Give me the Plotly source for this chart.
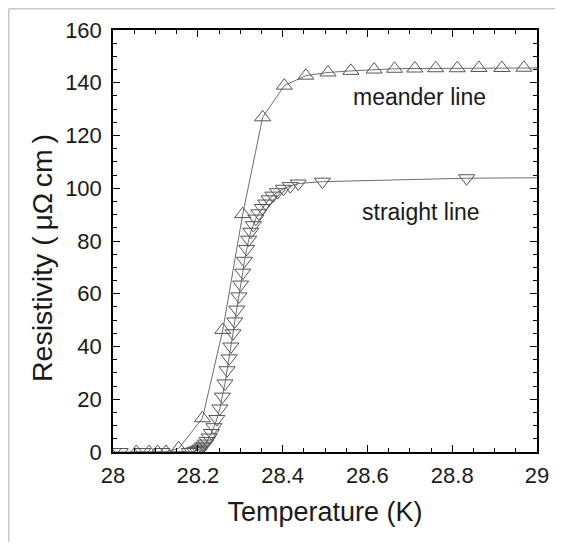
import plotly.graph_objects as go

# Meander line (up triangles)
meander_T = [28.055, 28.085, 28.105, 28.125, 28.155, 28.211, 28.259, 28.306, 28.353,
             28.404, 28.455, 28.507, 28.561, 28.616, 28.664, 28.712, 28.761, 28.812,
             28.863, 28.917, 28.969, 29.3]
meander_R = [0, 0, 0, 0, 1.4, 12.8, 46.3, 90.2, 126.9,
             138.9, 142.7, 143.9, 144.5, 145.0, 145.3, 145.4, 145.5, 145.5,
             145.6, 145.6, 145.7, 145.8]

# Straight line (down triangles)
straight_T = [28.0, 28.017, 28.07, 28.115, 28.18, 28.192, 28.197, 28.202, 28.206, 28.21,
              28.214, 28.218, 28.222, 28.227, 28.232, 28.238, 28.245, 28.252, 28.258,
              28.264, 28.269, 28.274, 28.278, 28.283, 28.287, 28.292, 28.297, 28.301,
              28.306, 28.310, 28.315, 28.32, 28.325, 28.331, 28.337, 28.344, 28.352,
              28.36, 28.368, 28.377, 28.388, 28.402, 28.418, 28.437, 28.494, 28.834, 29.3]
straight_R = [0, 0, 0, 0, 0, 0.3, 0.6, 0.9, 1.3, 1.8,
              2.4, 3.2, 4.2, 5.5, 7.2, 9.4, 12.5, 16.5, 21,
              26, 31, 35.5, 40, 45, 49.5, 54, 59, 63.5,
              68, 72.5, 77, 80.5, 83.5, 86, 88.5, 90.5, 92.5,
              94.2, 95.8, 97.2, 98.5, 99.8, 100.8, 101.8, 102.5, 103.8, 104.3]

x_ticks = [28, 28.2, 28.4, 28.6, 28.8, 29]
x_tick_labels = ["28", "28.2", "28.4", "28.6", "28.8", "29"]
y_ticks = [0, 20, 40, 60, 80, 100, 120, 140, 160]

FONT = "Liberation Sans, Arial, sans-serif"
TXT = "#1a1a1a"
line_col = "#6e6e6e"
mk_line = "#555555"

fig = go.Figure()
fig.add_trace(go.Scatter(
    x=straight_T, y=straight_R, mode="lines+markers",
    line=dict(color=line_col, width=1),
    marker=dict(symbol="triangle-down-open", size=14, color=mk_line, line=dict(width=1)),
    showlegend=False))
fig.add_trace(go.Scatter(
    x=meander_T, y=meander_R, mode="lines+markers",
    line=dict(color=line_col, width=1),
    marker=dict(symbol="triangle-up-open", size=14, color=mk_line, line=dict(width=1)),
    showlegend=False))

axis_common = dict(showline=True, linecolor="black", linewidth=1.5, mirror="allticks",
                   ticks="inside", ticklen=7, tickwidth=1.2, tickcolor="black",
                   showgrid=False, zeroline=False, automargin=False,
                   tickfont=dict(family=FONT, size=22, color=TXT))

fig.update_xaxes(range=[28, 29], tickvals=x_ticks, ticktext=x_tick_labels,
                 ticklabelstandoff=3,
                 minor=dict(dtick=0.05, ticks="inside", ticklen=4, tickcolor="black", tickwidth=1),
                 title=dict(text="Temperature (K)", font=dict(family=FONT, size=27, color=TXT),
                            standoff=15),
                 **axis_common)
fig.update_yaxes(range=[0, 160], tickvals=y_ticks,
                 ticklabelstandoff=5,
                 minor=dict(dtick=5, ticks="inside", ticklen=4, tickcolor="black", tickwidth=1),
                 **axis_common)

# figure size / margins (page body adds an 8px offset)
W, H = 547, 534
L, R, T, B = 105, 18, 22, 90
pw, ph = W - L - R, H - T - B
def px(x): return (x - L) / pw
def py(y): return (H - B - y) / ph

fig.add_annotation(x=px(34), y=py(250), xref="paper", yref="paper",
                   text="Resistivity (\u2009\u03bc\u03a9\u2009cm\u2009)", textangle=-90,
                   showarrow=False, xanchor="center", yanchor="middle",
                   font=dict(family=FONT, size=28.5, color=TXT))
fig.add_annotation(x=28.724, y=134.6, text="meander line", showarrow=False,
                   font=dict(family=FONT, size=23, color=TXT), xref="x", yref="y")
fig.add_annotation(x=28.726, y=91, text="straight line", showarrow=False,
                   font=dict(family=FONT, size=23, color=TXT), xref="x", yref="y")

# light grey image frame (top and left edges)
fig.add_shape(type="line", xref="paper", yref="paper", x0=px(0.8), x1=px(W), y0=py(0.8), y1=py(0.8),
              line=dict(color="#c8c8c8", width=1.5))
fig.add_shape(type="line", xref="paper", yref="paper", x0=px(0.8), x1=px(0.8), y0=py(0.8), y1=py(H),
              line=dict(color="#c8c8c8", width=1.5))

fig.update_layout(width=W, height=H, margin=dict(l=L, r=R, t=T, b=B, autoexpand=False),
                  plot_bgcolor="white", paper_bgcolor="white")

fig.write_html("out.html")
